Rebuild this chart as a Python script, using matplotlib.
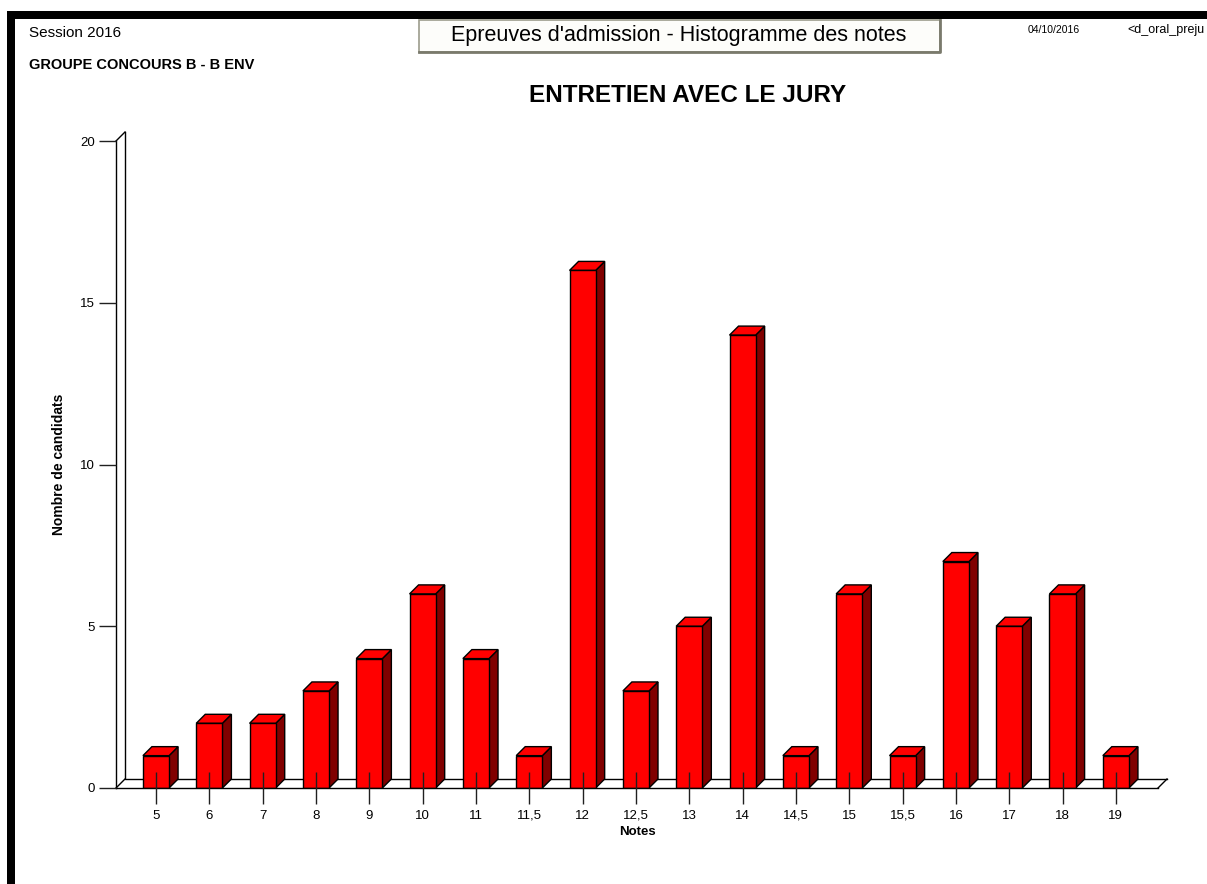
import matplotlib
matplotlib.use('Agg')
import matplotlib.pyplot as plt
from matplotlib.patches import Polygon, Rectangle
from matplotlib.lines import Line2D
from matplotlib.transforms import Affine2D, IdentityTransform

# ---- data ----
notes = ['5', '6', '7', '8', '9', '10', '11', '11,5', '12', '12,5', '13', '14',
         '14,5', '15', '15,5', '16', '17', '18', '19']
counts = [1, 2, 2, 3, 4, 6, 4, 1, 16, 3, 5, 14, 1, 6, 1, 7, 5, 6, 1]
y_ticks = [0, 5, 10, 15, 20]

plt.rcParams['font.family'] = ['Liberation Sans', 'DejaVu Sans']

W, H = 1207, 884
fig = plt.figure(figsize=(W / 100, H / 100), dpi=100)
fig.patch.set_facecolor('white')

def fx(px):
    return px / W

def fy(py):
    return 1 - py / H

# black frame bands (top and left)
fig.patches.append(Rectangle((fx(7), fy(19)), 1 - fx(7), (19 - 11) / H,
                             transform=fig.transFigure, facecolor='black',
                             edgecolor='none'))
fig.patches.append(Rectangle((fx(7), 0), (15 - 7) / W, fy(11),
                             transform=fig.transFigure, facecolor='black',
                             edgecolor='none'))

# header box
fig.patches.append(Rectangle((fx(419), fy(52)), (940 - 419) / W, (52 - 20) / H,
                             transform=fig.transFigure, facecolor='#fdfdfa',
                             edgecolor='#9c9c8c', linewidth=1.2))
fig.add_artist(Line2D([fx(419), fx(940), fx(940)], [fy(52), fy(52), fy(20)],
                      transform=fig.transFigure, color='#7a7a6c', lw=2))
fig.text(fx(679), fy(35), "Epreuves d'admission - Histogramme des notes",
         ha='center', va='center', fontsize=15.5)

fig.text(fx(29), fy(33), 'Session 2016', ha='left', va='center', fontsize=11)
fig.text(fx(29), fy(65), 'GROUPE CONCOURS B - B ENV', ha='left', va='center',
         fontsize=10.5, fontweight='bold')
fig.text(fx(1028), fy(30), '04/10/2016', ha='left', va='center', fontsize=7.5)
fig.text(fx(1127), fy(30), '<d_oral_preju', ha='left', va='center', fontsize=9)
fig.text(fx(688), fy(96), 'ENTRETIEN AVEC LE JURY', ha='center', va='center',
         fontsize=17.5, fontweight='bold')

# ---- axes ----
ax = fig.add_axes([fx(116), fy(788), (1158 - 116) / W, (788 - 141) / H])
x = list(range(len(notes)))
ax.set_xlim(-0.75, len(notes) - 0.21)
ax.set_ylim(y_ticks[0], y_ticks[-1])
ax.patch.set_alpha(0)
ax.set_axisbelow(False)
for s in ['top', 'right']:
    ax.spines[s].set_visible(False)
for s in ['left', 'bottom']:
    ax.spines[s].set_linewidth(1)
    ax.spines[s].set_color('black')

DX, DY = 9, 9
off = ax.transData + Affine2D().translate(DX, DY)
x0, x1 = ax.get_xlim()
y0, y1 = ax.get_ylim()
# back wall / floor
ax.plot([x0, x0, x1], [y1, y0, y0], transform=off, color='black', lw=1,
        clip_on=False, zorder=1)
for (px, py) in [(x0, y1), (x0, y0), (x1, y0)]:
    d = ax.transData.transform((px, py))
    ax.add_line(Line2D([d[0], d[0] + DX], [d[1], d[1] + DY],
                       transform=IdentityTransform(), color='black', lw=1,
                       clip_on=False, zorder=1))

bw = 0.49
ax.bar(x, counts, width=bw, color='#ff0000', edgecolor='black', linewidth=1,
       zorder=2)
for xi, v in zip(x, counts):
    br = ax.transData.transform((xi + bw / 2, 0))
    tl = ax.transData.transform((xi - bw / 2, v))
    tr = ax.transData.transform((xi + bw / 2, v))
    side = Polygon([br, tr, (tr[0] + DX, tr[1] + DY), (br[0] + DX, br[1] + DY)],
                   closed=True, transform=IdentityTransform(),
                   facecolor='#800000', edgecolor='black', lw=1,
                   clip_on=False, zorder=1.8)
    top = Polygon([tl, tr, (tr[0] + DX, tr[1] + DY), (tl[0] + DX, tl[1] + DY)],
                  closed=True, transform=IdentityTransform(),
                  facecolor='#ff0000', edgecolor='black', lw=1,
                  clip_on=False, zorder=1.8)
    ax.add_patch(side)
    ax.add_patch(top)

ax.set_xticks(x)
ax.set_xticklabels(notes)
ax.set_yticks(y_ticks)
ax.tick_params(axis='x', direction='inout', length=23, width=1,
               color='#202020', labelsize=9.5, pad=4)
ax.tick_params(axis='y', direction='out', length=12, width=1,
               color='#202020', labelsize=9.5, pad=3)
ax.set_xlabel('Notes', fontsize=9.5, fontweight='bold', labelpad=3.5)
ax.set_ylabel('Nombre de candidats', fontsize=10, fontweight='bold', labelpad=10)

fig.savefig('out.png', dpi=100)
